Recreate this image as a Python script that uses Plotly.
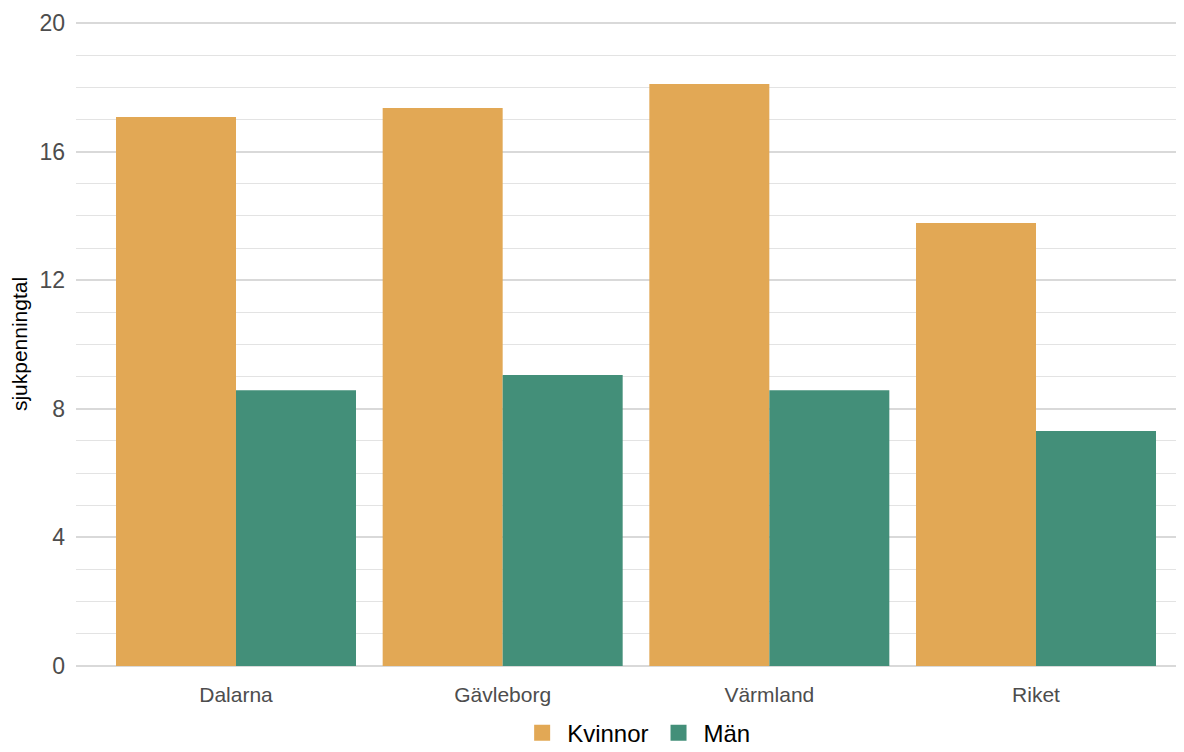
import plotly.graph_objects as go

regions = ["Dalarna", "Gävleborg", "Värmland", "Riket"]
kvinnor = [17.08, 17.36, 18.10, 13.78]
man = [8.58, 9.05, 8.58, 7.31]
series_names = ["Kvinnor", "Män"]
colors = ["#E2A855", "#438F79"]
y_ticks = [0, 4, 8, 12, 16, 20]

fig = go.Figure()
for vals, name, col in zip([kvinnor, man], series_names, colors):
    fig.add_trace(go.Bar(x=regions, y=vals, name=name, marker_color=col,
                         marker_line_width=0, showlegend=False))
# legend proxies with larger square swatches
for name, col in zip(series_names, colors):
    fig.add_trace(go.Scatter(x=[None], y=[None], mode="markers", name=name,
                             marker=dict(symbol="square", size=30, color=col)))

# page body has an 8px margin, so the figure is 8px smaller than the window
fig.update_layout(
    width=1176, height=744,
    barmode="group", bargap=0.1, bargroupgap=0,
    plot_bgcolor="white", paper_bgcolor="white",
    margin=dict(l=68, r=0, t=0, b=72, autoexpand=False),
    font=dict(family="Liberation Sans, Arial, sans-serif"),
    legend=dict(orientation="h", x=0.506, xanchor="center", y=-0.079, yanchor="middle",
                font=dict(size=24, color="black"), itemsizing="trace", itemwidth=40),
    xaxis=dict(range=[-0.6, 3.555], showgrid=False, showline=False, ticks="",
               tickfont=dict(size=21, color="#4d4d4d")),
    yaxis=dict(range=[-0.435, 20.467], tickvals=y_ticks, showline=False, zeroline=False,
               gridcolor="#d9d9d9", gridwidth=2, ticks="", ticklabelstandoff=10,
               tickfont=dict(size=23, color="#4d4d4d"),
               title=dict(text="sjukpenningtal", font=dict(size=21, color="black"), standoff=10),
               minor=dict(dtick=1, showgrid=True, gridcolor="#e3e3e3", gridwidth=1)),
)

fig.write_html("out.html")
